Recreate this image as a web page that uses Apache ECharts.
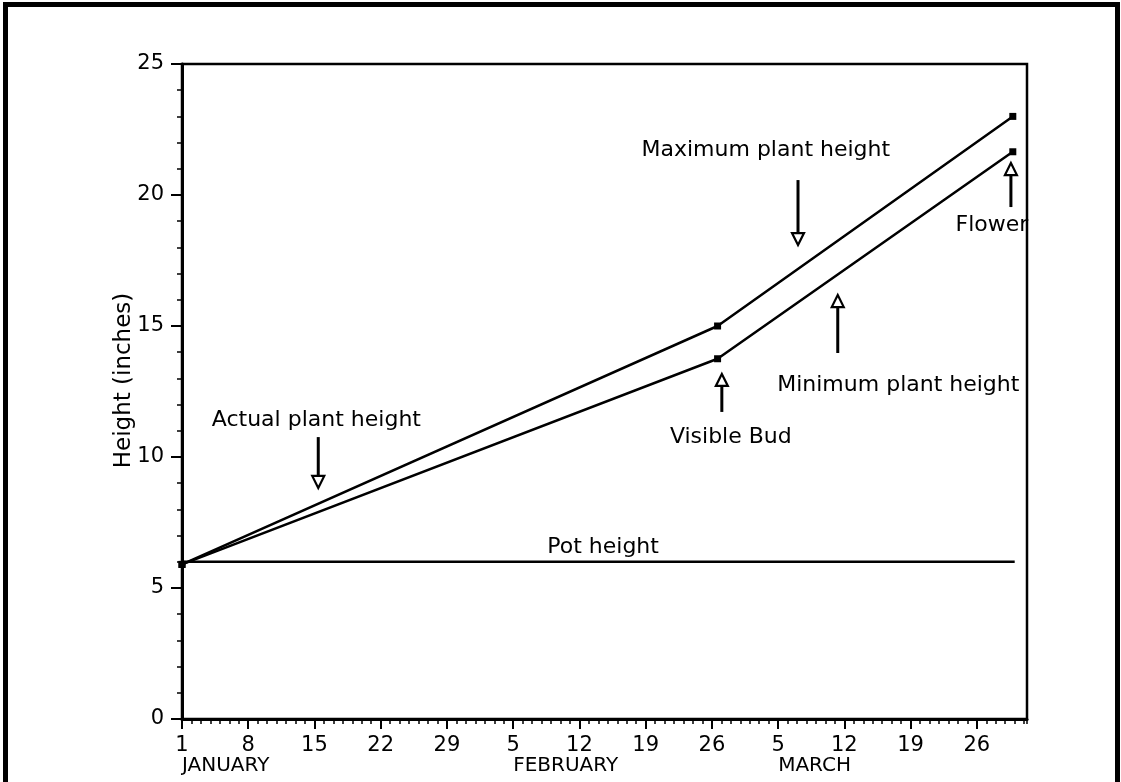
<!DOCTYPE html>
<html>
<head>
<meta charset="utf-8">
<script src="https://cdn.jsdelivr.net/npm/echarts@6/dist/echarts.min.js"></script>
<style>
html,body{margin:0;padding:0;background:#fff;}
#c{width:1121px;height:782px;}
</style>
</head>
<body>
<div id="c"></div>
<script>
// ---- data (x = days since 1 January, y = inches) ----
const dayTicks = [0, 7, 14, 21, 28, 35, 42, 49, 56, 63, 70, 77, 84];
const dayLabels = ['1', '8', '15', '22', '29', '5', '12', '19', '26', '5', '12', '19', '26'];
const monthDays = [0, 35, 63];
const monthLabels = ['JANUARY', 'FEBRUARY', 'MARCH'];
const xMax = 89.3;

const obsDays = [0, 56.6, 87.8];
const maxHeight = [5.9, 15.0, 23.0];
const minHeight = [5.9, 13.75, 21.65];
const potDays = [0, 88];
const potHeight = [6.0, 6.0];

const annLabels = ['Actual plant height', 'Maximum plant height', 'Visible Bud', 'Minimum plant height', 'Flower', 'Pot height'];
const annX = [14.2, 61.7, 58.0, 75.7, 85.6, 44.5];
const annY = [11.4, 21.7, 10.75, 12.75, 18.85, 6.56];

const arrowX = [14.4, 65.1, 57.05, 69.3, 87.6];
const arrowTail = [10.76, 20.57, 11.72, 13.97, 19.54];
const arrowTip = [8.82, 18.09, 13.17, 16.18, 21.22];

const FONT = '"DejaVu Sans", "Liberation Sans", sans-serif';

const chart = echarts.init(document.getElementById('c'), null, {renderer: 'canvas'});

function pairs(xs, ys) { return xs.map((x, i) => [x, ys[i]]); }

const option = {
  animation: false,
  backgroundColor: '#fff',
  textStyle: {fontFamily: FONT, color: '#000'},
  graphic: [{
    type: 'rect',
    shape: {x: 5.5, y: 4.5, width: 1112, height: 800},
    style: {fill: 'none', stroke: '#000', lineWidth: 5},
    silent: true
  }],
  grid: {left: 182, right: 94, top: 64, bottom: 63, show: true, borderColor: '#000', borderWidth: 2.5, backgroundColor: 'transparent'},
  xAxis: [
    {
      type: 'value', min: 0, max: xMax, interval: 7,
      axisLine: {lineStyle: {color: '#000', width: 3}},
      axisTick: {length: 10, lineStyle: {color: '#000', width: 2}},
      axisLabel: {
        margin: 16, color: '#000', fontSize: 21, fontFamily: FONT,
        showMaxLabel: false,
        formatter: v => { const i = dayTicks.indexOf(v); return i >= 0 ? dayLabels[i] : ''; }
      },
      splitLine: {show: false}
    },
    {
      type: 'value', min: 0, max: xMax, interval: 1, position: 'bottom',
      axisLine: {show: false},
      axisTick: {length: 5, lineStyle: {color: '#000', width: 1.5}},
      axisLabel: {show: false},
      splitLine: {show: false}
    },
    {
      type: 'value', min: 0, max: xMax, interval: 7, position: 'bottom',
      axisLine: {show: false},
      axisTick: {show: false},
      axisLabel: {
        margin: 37, align: 'left', color: '#000', fontSize: 20, fontFamily: FONT,
        showMaxLabel: false,
        formatter: v => { const i = monthDays.indexOf(v); return i >= 0 ? monthLabels[i] : ''; }
      },
      splitLine: {show: false}
    }
  ],
  yAxis: {
    type: 'value', min: 0, max: 25, interval: 5,
    name: 'Height (inches)', nameLocation: 'middle', nameGap: 46, nameMoveOverlap: false,
    nameTextStyle: {fontSize: 23, color: '#000', fontFamily: FONT, padding: [0, 0, 0, 22]},
    axisLine: {lineStyle: {color: '#000', width: 3}},
    axisTick: {length: 11, lineStyle: {color: '#000', width: 2}},
    minorTick: {show: true, splitNumber: 5, length: 5, lineStyle: {color: '#000', width: 1.5}},
    axisLabel: {margin: 18, color: '#000', fontSize: 21, fontFamily: FONT},
    splitLine: {show: false}
  },
  series: [
    {
      name: 'Maximum plant height', type: 'line', xAxisIndex: 0,
      data: pairs(obsDays, maxHeight),
      symbol: 'rect', symbolSize: 7, showSymbol: true,
      itemStyle: {color: '#000'}, lineStyle: {color: '#000', width: 2.5}
    },
    {
      name: 'Minimum plant height', type: 'line', xAxisIndex: 0,
      data: pairs(obsDays, minHeight),
      symbol: 'rect', symbolSize: 7, showSymbol: true,
      itemStyle: {color: '#000'}, lineStyle: {color: '#000', width: 2.5}
    },
    {
      name: 'Pot height', type: 'line', xAxisIndex: 0,
      data: pairs(potDays, potHeight),
      symbol: 'none', lineStyle: {color: '#000', width: 2.5}
    },
    {
      name: 'arrows', type: 'custom', xAxisIndex: 0, clip: false, silent: true,
      data: arrowX.map((x, i) => [x, arrowTail[i], arrowTip[i]]),
      renderItem: function (params, api) {
        const a = api.coord([api.value(0), api.value(1)]);
        const b = api.coord([api.value(0), api.value(2)]);
        const dir = b[1] > a[1] ? 1 : -1;
        const hl = 12, hw = 6;
        const baseY = b[1] - dir * hl;
        return {
          type: 'group',
          children: [
            {type: 'line', shape: {x1: a[0], y1: a[1], x2: b[0], y2: baseY}, style: {stroke: '#000', lineWidth: 3}},
            {type: 'polygon', shape: {points: [[b[0], b[1]], [b[0] - hw, baseY], [b[0] + hw, baseY]]}, style: {fill: '#fff', stroke: '#000', lineWidth: 2.2}}
          ]
        };
      }
    },
    {
      name: 'annotations', type: 'custom', xAxisIndex: 0, clip: false, silent: true,
      data: annX.map((x, i) => [x, annY[i]]),
      renderItem: function (params, api) {
        const p = api.coord([api.value(0), api.value(1)]);
        return {
          type: 'text',
          style: {
            text: annLabels[params.dataIndex], x: p[0], y: p[1],
            align: 'center', verticalAlign: 'middle',
            font: '22px ' + FONT, fill: '#000'
          }
        };
      }
    }
  ]
};
chart.setOption(option);
</script>
</body>
</html>
